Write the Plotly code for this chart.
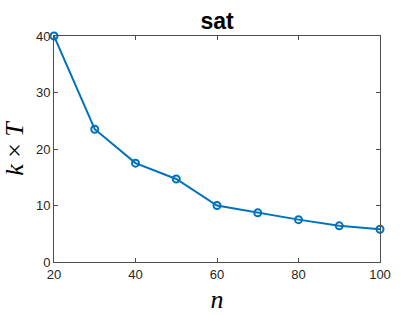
import plotly.graph_objects as go

n_vals = [20, 30, 40, 50, 60, 70, 80, 90, 100]
kT_vals = [40.0, 23.5, 17.5, 14.7, 10.0, 8.7, 7.5, 6.4, 5.8]
x_ticks = [20, 40, 60, 80, 100]
y_ticks = [0, 10, 20, 30, 40]

fig = go.Figure()
fig.add_trace(go.Scatter(
    x=n_vals, y=kT_vals, mode="lines+markers",
    line=dict(color="#0072BD", width=2),
    marker=dict(symbol="circle-open", size=7, color="#0072BD", line=dict(width=2)),
    cliponaxis=False, showlegend=False,
))

axis_common = dict(
    showline=True, linecolor="#4d4d4d", linewidth=1, mirror="ticks",
    ticks="inside", ticklen=4, tickcolor="#4d4d4d",
    showgrid=False, zeroline=False, automargin=False,
    tickfont=dict(family="Liberation Sans, Arial", size=13, color="#262626"),
)

fig.update_layout(
    width=420, height=315,
    margin=dict(l=54, r=40, t=36, b=53),
    paper_bgcolor="white", plot_bgcolor="white",
    title=dict(text="<b>sat</b>", x=0.5, xanchor="center", y=0.935, yanchor="middle",
               xref="paper",
               font=dict(family="Liberation Sans, Arial", size=23, color="black")),
    xaxis=dict(range=[20, 100], tickvals=x_ticks, **axis_common,
               title=dict(text="<i>n</i>", standoff=9,
                          font=dict(family="Liberation Serif, DejaVu Serif", size=26, color="black"))),
    yaxis=dict(range=[0, 40], tickvals=y_ticks, **axis_common,
               title=dict(text="<i>k</i> × <i>T</i>", standoff=9,
                          font=dict(family="Liberation Serif, DejaVu Serif", size=26, color="black"))),
)

fig.write_html("out.html")
